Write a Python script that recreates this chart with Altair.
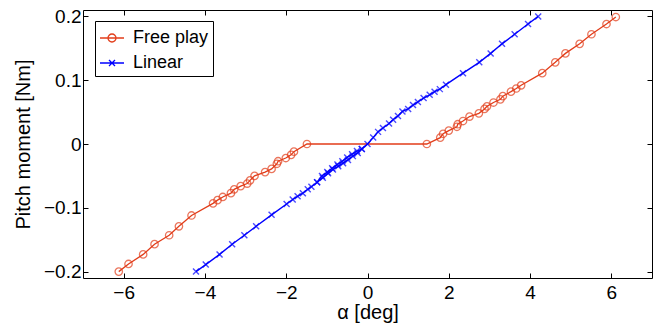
import altair as alt
import pandas as pd

# Free play: pitch moment vs angle of attack (dead band around zero)
fp_alpha = [-6.12, -5.88, -5.52, -5.24, -4.88, -4.64, -4.33, -3.80, -3.69, -3.56,
            -3.36, -3.28, -3.12, -2.96, -2.89, -2.78, -2.52, -2.36, -2.23, -2.20,
            -2.01, -1.88, -1.81, -1.49,
            1.46, 1.79, 1.86, 2.00, 2.20, 2.22, 2.35, 2.51, 2.74, 2.88,
            2.94, 3.10, 3.27, 3.33, 3.53, 3.66, 3.78, 4.30, 4.62, 4.87,
            5.22, 5.51, 5.88, 6.11]
fp_moment = [-0.200, -0.188, -0.173, -0.157, -0.143, -0.129, -0.112, -0.093, -0.088, -0.083,
             -0.077, -0.071, -0.066, -0.062, -0.057, -0.050, -0.044, -0.039, -0.031, -0.027,
             -0.022, -0.017, -0.012, 0.000,
             0.000, 0.010, 0.016, 0.021, 0.027, 0.031, 0.036, 0.043, 0.048, 0.055,
             0.059, 0.065, 0.070, 0.075, 0.082, 0.087, 0.092, 0.111, 0.128, 0.142,
             0.157, 0.172, 0.188, 0.199]

# Linear spring: main sweep
lin_alpha = [-4.22, -3.98, -3.64, -3.33, -3.03, -2.74, -2.36, -1.99, -1.84, -1.72,
             -1.59, -1.47, -1.38, -1.24, -1.10, -0.97, -0.85, -0.72, -0.60, -0.48,
             -0.36, -0.24, -0.14, 0.00, 0.14, 0.26, 0.38, 0.53, 0.63, 0.75,
             0.86, 1.00, 1.12, 1.24, 1.38, 1.53, 1.65, 1.78, 1.93, 2.35,
             2.75, 3.03, 3.31, 3.62, 3.95, 4.20]
lin_moment = [-0.200, -0.189, -0.173, -0.157, -0.143, -0.129, -0.111, -0.094, -0.087, -0.082,
              -0.077, -0.071, -0.067, -0.060, -0.053, -0.046, -0.040, -0.035, -0.030, -0.025,
              -0.019, -0.014, -0.008, 0.000, 0.010, 0.019, 0.025, 0.032, 0.038, 0.044,
              0.051, 0.055, 0.061, 0.066, 0.072, 0.077, 0.082, 0.086, 0.093, 0.111,
              0.128, 0.142, 0.157, 0.172, 0.188, 0.200]

# Linear spring: second pass near zero (small hysteresis)
lin2_alpha = [-1.24, -1.12, -0.99, -0.87, -0.74, -0.62, -0.50, -0.38, -0.26, -0.14]
lin2_moment = [-0.060, -0.050, -0.044, -0.038, -0.032, -0.027, -0.021, -0.016, -0.011, -0.008]

series = ["Free play", "Linear"]
x_ticks = [-6, -4, -2, 0, 2, 4, 6]
y_ticks = [-0.2, -0.1, 0, 0.1, 0.2]

RED = "#e23d1a"
BLUE = "#0000ff"
FONT = "Liberation Sans"

# Marker glyphs (unit square paths)
CROSS = "M-1,-1L1,1M-1,1L1,-1"
KEY_FP = "M-1,0L1,0M-0.333,0A0.333,0.333,0,1,1,0.333,0A0.333,0.333,0,1,1,-0.333,0"
KEY_LIN = "M-1,0L1,0M-0.25,-0.25L0.25,0.25M-0.25,0.25L0.25,-0.25"

fp = pd.DataFrame({"alpha": fp_alpha, "moment": fp_moment,
                   "series": "Free play", "path": "fp", "idx": range(len(fp_alpha))})
lin = pd.DataFrame({"alpha": lin_alpha, "moment": lin_moment,
                    "series": "Linear", "path": "lin_a", "idx": range(len(lin_alpha))})
lin2 = pd.DataFrame({"alpha": lin2_alpha, "moment": lin2_moment,
                     "series": "Linear", "path": "lin_b", "idx": range(len(lin2_alpha))})
lin_all = pd.concat([lin, lin2], ignore_index=True)
everything = pd.concat([fp, lin_all], ignore_index=True)

xs = alt.Scale(domain=[-7, 7], nice=False, zero=False)
ys = alt.Scale(domain=[-0.21, 0.21], nice=False, zero=False)

common = dict(grid=False, domain=False, ticks=True, tickSize=5, tickWidth=1,
              tickColor="black", offset=-5, labelFont=FONT, labelFontSize=19,
              labelColor="black", titleFont=FONT, titleFontSize=20,
              titleFontWeight="normal", titleColor="black")

x_bottom = alt.Axis(orient="bottom", values=x_ticks, format="d", labelPadding=5,
                    title="α [deg]", titlePadding=0, **common)
y_left = alt.Axis(orient="left", values=y_ticks, format=".1~f", labelPadding=2,
                  title="Pitch moment [Nm]", titlePadding=10, **common)
x_top = alt.Axis(orient="top", values=x_ticks, labels=False, title=None, **common)
y_right = alt.Axis(orient="right", values=y_ticks, labels=False, title=None, **common)

fp_line = alt.Chart(fp).mark_line(color=RED, strokeWidth=1.3).encode(
    x=alt.X("alpha:Q", scale=xs, axis=x_bottom),
    y=alt.Y("moment:Q", scale=ys, axis=y_left),
    order="idx:Q",
)
fp_pts = alt.Chart(fp).mark_point(shape="circle", size=55, color=RED,
                                  filled=False, strokeWidth=1.3).encode(
    x=alt.X("alpha:Q", scale=xs, axis=None),
    y=alt.Y("moment:Q", scale=ys, axis=None),
)
lin_line = alt.Chart(lin_all).mark_line(color=BLUE, strokeWidth=1.4).encode(
    x=alt.X("alpha:Q", scale=xs, axis=None),
    y=alt.Y("moment:Q", scale=ys, axis=None),
    detail="path:N",
    order="idx:Q",
)
lin_pts = alt.Chart(lin_all).mark_point(shape=CROSS, size=36, color=BLUE,
                                        filled=False, strokeWidth=1.4).encode(
    x=alt.X("alpha:Q", scale=xs, axis=None),
    y=alt.Y("moment:Q", scale=ys, axis=None),
)

legend = alt.Legend(title=None, orient="none", legendX=12, legendY=11,
                    strokeColor="black", fillColor="white", padding=4,
                    cornerRadius=0, symbolSize=576, symbolStrokeWidth=1.3,
                    symbolOpacity=1, rowPadding=3, labelOffset=8,
                    labelFont=FONT, labelFontSize=18, labelColor="black",
                    labelExpr="datum.label + '\u2002\u2002'")

# Frame ticks on top/right plus the legend keys
key_layer = alt.Chart(everything).mark_point(opacity=0, filled=False).encode(
    x=alt.X("alpha:Q", scale=xs, axis=x_top),
    y=alt.Y("moment:Q", scale=ys, axis=y_right),
    color=alt.Color("series:N", scale=alt.Scale(domain=series, range=[RED, BLUE]),
                    legend=legend),
    shape=alt.Shape("series:N", scale=alt.Scale(domain=series, range=[KEY_FP, KEY_LIN]),
                    legend=legend),
)

chart = (
    alt.layer(fp_line, fp_pts, lin_line, lin_pts, key_layer)
    .resolve_axis(x="independent", y="independent")
    .properties(
        width=569,
        height=268,
        autosize=alt.AutoSizeParams(type="none"),
        padding={"left": 83, "top": 10, "right": 6, "bottom": 53},
        background="white",
    )
    .configure_view(stroke="black", strokeWidth=1)
)

chart.save("out.html", embed_options={"renderer": "svg", "actions": False})
